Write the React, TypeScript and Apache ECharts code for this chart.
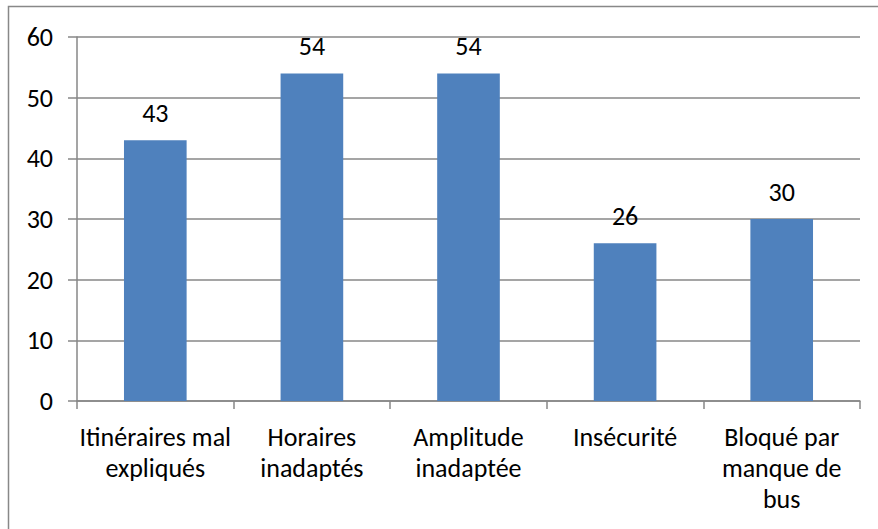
import React, { useEffect, useRef } from "react";
import * as echarts from "echarts";

const categories = [
  "Itinéraires mal\nexpliqués",
  "Horaires\ninadaptés",
  "Amplitude\ninadaptée",
  "Insécurité",
  "Bloqué par\nmanque de\nbus",
];
const values = [43, 54, 54, 26, 30];
const yMin = 0;
const yMax = 60;
const yStep = 10;

const FONT = "Carlito, 'Open Sans', 'Noto Sans', sans-serif";
const GRAY = "#878787";

export default function App() {
  const ref = useRef<HTMLDivElement>(null);
  useEffect(() => {
    if (!ref.current) return;
    const chart = echarts.init(ref.current, undefined, { renderer: "svg" });
    chart.setOption({
      animation: false,
      backgroundColor: "#ffffff",
      graphic: [
        {
          type: "rect",
          shape: { x: 8.5, y: 6.5, width: 900, height: 600 },
          style: { fill: "none", stroke: "#888888", lineWidth: 1.5 },
          silent: true,
        },
      ],
      grid: { left: 77, right: 18, top: 37, bottom: 128 },
      xAxis: {
        type: "category",
        data: categories,
        axisLine: { show: true, lineStyle: { color: GRAY, width: 1.5 } },
        axisTick: { show: true, length: 8, interval: 0, alignWithLabel: false, lineStyle: { color: GRAY, width: 1.5 } },
        axisLabel: {
          interval: 0,
          color: "#000",
          fontFamily: FONT,
          fontSize: 26,
          lineHeight: 31,
          margin: 20,
        },
      },
      yAxis: {
        type: "value",
        min: yMin,
        max: yMax,
        interval: yStep,
        axisLine: { show: true, lineStyle: { color: GRAY, width: 1.5 } },
        axisTick: { show: true, length: 9, lineStyle: { color: GRAY, width: 1.5 } },
        splitLine: { show: true, lineStyle: { color: GRAY, width: 1.5 } },
        axisLabel: {
          color: "#000",
          fontFamily: FONT,
          fontSize: 26,
          margin: 24,
        },
      },
      series: [
        {
          type: "bar",
          data: values,
          barWidth: "40%",
          itemStyle: { color: "#4F81BD" },
          label: {
            show: true,
            position: "top",
            distance: 14,
            color: "#000",
            fontFamily: FONT,
            fontSize: 26,
          },
        },
      ],
    });
    return () => chart.dispose();
  }, []);
  return <div ref={ref} style={{ width: 878, height: 529, position: "absolute", left: 0, top: 0 }} />;
}
